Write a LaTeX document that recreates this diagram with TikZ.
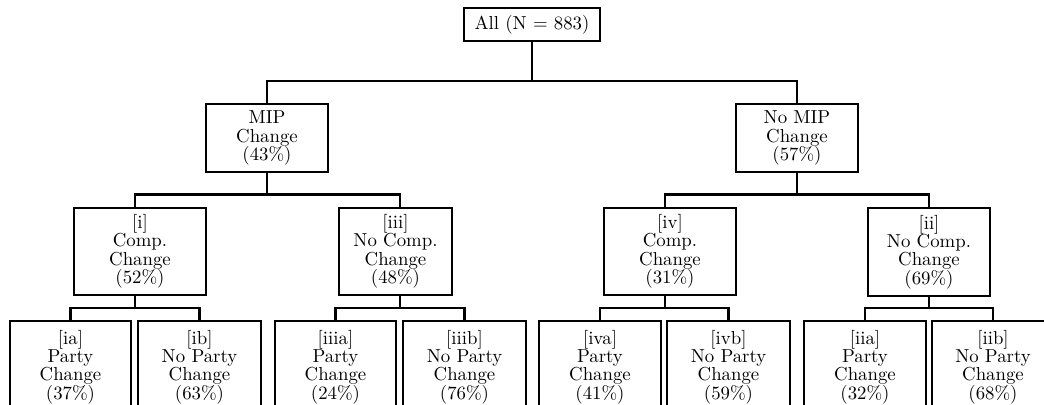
\documentclass[tikz,border=0pt]{standalone}
\begin{document}
\begin{tikzpicture}[x=0.532pt,y=-0.532pt,
  tbox/.style 2 args={draw, line width=1.1pt, align=center, inner sep=0pt,
    minimum width=#1*0.532pt, minimum height=#2*0.532pt,
    font=\fontsize{10pt}{9.8pt}\selectfont},
  conn/.style={line width=1.1pt}]
\useasboundingbox (0,0) rectangle (1044,405);
% bus levels and junction columns
\coordinate (b1) at (0,81);
\coordinate (b2) at (0,194.5);
\coordinate (b3) at (0,308);
\coordinate (xi) at (135,0);
\coordinate (xiii) at (400,0);
\coordinate (xiv) at (665,0);
\coordinate (xii) at (929,0);
% nodes
\node[tbox={136}{33}] (root) at (532,24.5) {All (N = 883)};
\node[tbox={122}{68}] (mip) at (267,138) {MIP\\Change\\(43\%)};
\node[tbox={122}{68}] (nomip) at (797,138) {No MIP\\Change\\(57\%)};
\node[tbox={132}{87}] (ci) at (140,251.5) {[i]\\Comp.\\Change\\(52\%)};
\node[tbox={113}{87}] (ciii) at (395.5,251.5) {[iii]\\No Comp.\\Change\\(48\%)};
\node[tbox={132}{87}] (civ) at (670,251.5) {[iv]\\Comp.\\Change\\(31\%)};
\node[tbox={122}{88}] (cii) at (929,252) {[ii]\\No Comp.\\Change\\(69\%)};
\node[tbox={121}{92}] (ia) at (70.5,367) {[ia]\\Party\\Change\\(37\%)};
\node[tbox={123}{92}] (ib) at (199.5,367) {[ib]\\No Party\\Change\\(63\%)};
\node[tbox={121}{92}] (iiia) at (335.5,367) {[iiia]\\Party\\Change\\(24\%)};
\node[tbox={123}{92}] (iiib) at (464.5,367) {[iiib]\\No Party\\Change\\(76\%)};
\node[tbox={122}{92}] (iva) at (600,367) {[iva]\\Party\\Change\\(41\%)};
\node[tbox={123}{92}] (ivb) at (728.5,367) {[ivb]\\No Party\\Change\\(59\%)};
\node[tbox={122}{92}] (iia) at (865,367) {[iia]\\Party\\Change\\(32\%)};
\node[tbox={122}{92}] (iib) at (993,367) {[iib]\\No Party\\Change\\(68\%)};
% connectors
\draw[conn] (root.south) -- (root.south |- b1) -| (mip.north);
\draw[conn] (root.south |- b1) -| (nomip.north);
\draw[conn] (mip.south) -- (mip.south |- b2) -| (xi |- ci.north);
\draw[conn] (mip.south |- b2) -| (xiii |- ciii.north);
\draw[conn] (nomip.south) -- (nomip.south |- b2) -| (xiv |- civ.north);
\draw[conn] (nomip.south |- b2) -| (xii |- cii.north);
\draw[conn] (xi |- ci.south) -- (xi |- b3) -| (ia.north);
\draw[conn] (xi |- b3) -| (ib.north);
\draw[conn] (xiii |- ciii.south) -- (xiii |- b3) -| (iiia.north);
\draw[conn] (xiii |- b3) -| (iiib.north);
\draw[conn] (xiv |- civ.south) -- (xiv |- b3) -| (iva.north);
\draw[conn] (xiv |- b3) -| (ivb.north);
\draw[conn] (xii |- cii.south) -- (xii |- b3) -| (iia.north);
\draw[conn] (xii |- b3) -| (iib.north);
\end{tikzpicture}
\end{document}
